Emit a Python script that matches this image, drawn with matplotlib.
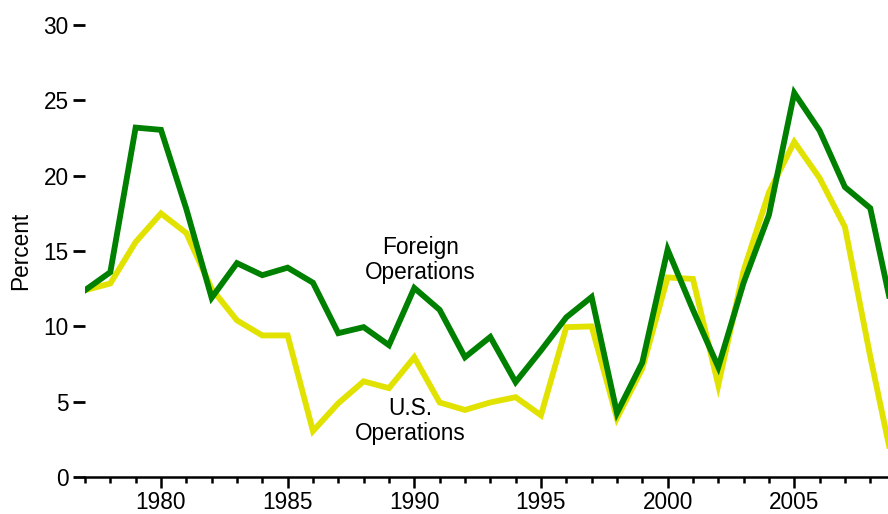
import numpy as np
import matplotlib
matplotlib.use('Agg')
import matplotlib.pyplot as plt

years = list(range(1977, 2010))
foreign = [12.4, 13.6, 23.2, 23.05, 17.8, 11.9, 14.2, 13.4, 13.9, 12.9,
           9.55, 9.95, 8.75, 12.55, 11.1, 7.95, 9.3, 6.3, 8.4, 10.6,
           11.95, 4.25, 7.6, 15.1, 11.1, 7.3, 12.9, 17.4, 25.5, 23.0,
           19.25, 17.85, 10.0]
us = [12.4, 12.85, 15.6, 17.5, 16.2, 12.5, 10.4, 9.4, 9.4, 3.05,
      4.9, 6.35, 5.9, 7.95, 4.95, 4.45, 4.95, 5.3, 4.1, 9.95,
      10.0, 3.9, 7.2, 13.25, 13.15, 6.1, 13.7, 18.9, 22.25, 19.85,
      16.6, 8.0, 0.0]

plt.rcParams['font.family'] = ['Liberation Sans', 'DejaVu Sans']

fig = plt.figure(figsize=(8.88, 5.14), dpi=100)
ax = fig.add_axes([0.0957, 0.072, 0.9043, 0.879])

ax.plot(years, us, color='#e2e200', lw=4.2, solid_joinstyle='miter', zorder=2)
ax.plot(years, foreign, color='#008000', lw=4.2, solid_joinstyle='miter', zorder=3)

ax.set_xlim(1977, 2008.7)
ax.set_ylim(0, 30)

for s in ['top', 'right', 'left']:
    ax.spines[s].set_visible(False)
ax.spines['bottom'].set_linewidth(1.8)

ax.set_yticks([0, 5, 10, 15, 20, 25, 30])
ax.set_xticks([1980, 1985, 1990, 1995, 2000, 2005])
ax.set_xticks(range(1977, 2009), minor=True)
ax.tick_params(axis='y', length=8.8, width=2.0, pad=3, labelsize=16.3)
ax.tick_params(axis='x', which='major', length=8, width=1.8, pad=2, labelsize=16.3)
ax.tick_params(axis='x', which='minor', length=4.5, width=1.8)

ax.set_ylabel('Percent', fontsize=16.3, labelpad=8)

ax.text(1990.25, 14.4, 'Foreign\nOperations', ha='center', va='center',
        fontsize=16.3, linespacing=1.1)
ax.text(1989.85, 3.7, 'U.S.\nOperations', ha='center', va='center',
        fontsize=16.3, linespacing=1.1)

fig.savefig('out.png', dpi=100)
